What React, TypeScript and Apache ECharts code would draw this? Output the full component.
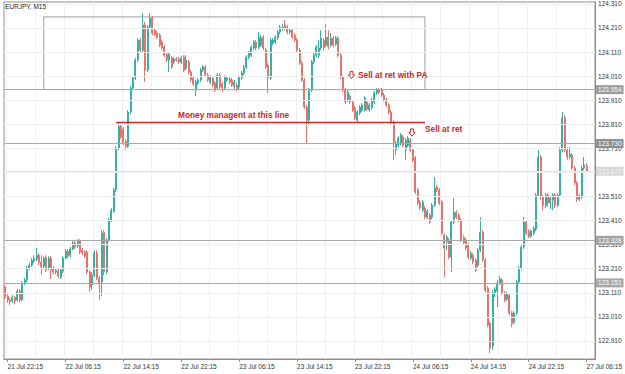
import React, { useEffect, useRef } from 'react';
import * as echarts from 'echarts';

const title = 'EURJPY, M15';
const xLabels = ['21 Jul 22:15', '22 Jul 06:15', '22 Jul 14:15', '22 Jul 22:15', '23 Jul 06:15', '23 Jul 14:15', '23 Jul 22:15', '24 Jul 06:15', '24 Jul 14:15', '24 Jul 22:15', '27 Jul 06:15'];
const barCount = 245;
const barsPerLabel = 24;

const opens = [
  123.134, 123.096, 123.080, 123.076, 123.092, 123.080, 123.117, 123.080, 123.151, 123.163,
  123.213, 123.225, 123.242, 123.250, 123.266, 123.238, 123.221, 123.258, 123.213, 123.254,
  123.209, 123.196, 123.200, 123.175, 123.200, 123.254, 123.283, 123.266, 123.292, 123.317,
  123.304, 123.325, 123.287, 123.279, 123.279, 123.196, 123.142, 123.183, 123.275, 123.171,
  123.155, 123.362, 123.196, 123.329, 123.412, 123.449, 123.537, 123.711, 123.802, 123.790,
  123.740, 123.719, 123.861, 123.961, 124.002, 124.077, 124.160, 124.118, 124.222, 124.035,
  124.214, 124.251, 124.201, 124.189, 124.180, 124.152, 124.131, 124.101, 124.077, 124.085,
  124.069, 124.081, 124.081, 124.069, 124.089, 124.044, 124.069, 124.027, 124.002, 123.952,
  123.982, 123.994, 124.035, 124.048, 124.014, 123.986, 124.002, 123.982, 123.961, 124.014,
  123.977, 123.961, 123.994, 123.998, 123.994, 123.965, 123.973, 123.965, 124.002, 124.023,
  124.048, 124.089, 124.097, 124.127, 124.152, 124.131, 124.139, 124.172, 124.118, 124.056,
  124.002, 124.147, 124.152, 124.168, 124.193, 124.206, 124.222, 124.214, 124.193, 124.201,
  124.180, 124.160, 124.118, 124.064, 123.994, 123.882, 123.827, 123.952, 124.069, 124.097,
  124.097, 124.127, 124.160, 124.139, 124.172, 124.139, 124.168, 124.143, 124.168, 124.097,
  124.006, 123.952, 123.911, 123.927, 123.903, 123.878, 123.827, 123.857, 123.869, 123.869,
  123.903, 123.869, 123.878, 123.903, 123.940, 123.952, 123.952, 123.931, 123.911, 123.890,
  123.861, 123.819, 123.703, 123.723, 123.732, 123.757, 123.703, 123.723, 123.744, 123.703,
  123.670, 123.537, 123.487, 123.453, 123.462, 123.424, 123.432, 123.424, 123.474, 123.549,
  123.537, 123.487, 123.349, 123.321, 123.329, 123.258, 123.404, 123.445, 123.432, 123.412,
  123.341, 123.329, 123.308, 123.254, 123.266, 123.246, 123.225, 123.287, 123.362, 123.246,
  123.130, 122.984, 122.888, 123.109, 123.117, 123.151, 123.163, 123.109, 123.084, 123.100,
  123.026, 122.988, 123.026, 123.155, 123.213, 123.300, 123.404, 123.366, 123.345, 123.358,
  123.374, 123.516, 123.674, 123.508, 123.474, 123.516, 123.483, 123.495, 123.516, 123.474,
  123.516, 123.703, 123.836, 123.703, 123.674, 123.682, 123.628, 123.566, 123.499, 123.508,
  123.628, 123.636,
];

const closes = [
  123.092, 123.080, 123.072, 123.092, 123.076, 123.117, 123.080, 123.151, 123.163, 123.213,
  123.225, 123.246, 123.254, 123.266, 123.238, 123.217, 123.254, 123.204, 123.254, 123.204,
  123.196, 123.204, 123.179, 123.204, 123.254, 123.283, 123.262, 123.292, 123.317, 123.300,
  123.325, 123.279, 123.275, 123.262, 123.196, 123.134, 123.183, 123.275, 123.171, 123.146,
  123.358, 123.196, 123.329, 123.412, 123.453, 123.537, 123.711, 123.802, 123.757, 123.732,
  123.719, 123.861, 123.961, 124.002, 124.077, 124.160, 124.118, 124.222, 124.035, 124.214,
  124.251, 124.189, 124.184, 124.172, 124.139, 124.127, 124.097, 124.077, 124.101, 124.048,
  124.081, 124.077, 124.069, 124.085, 124.035, 124.077, 124.027, 123.994, 123.977, 123.986,
  123.994, 124.035, 124.048, 124.014, 123.994, 124.006, 123.973, 123.952, 124.014, 123.965,
  123.961, 124.006, 124.002, 123.986, 123.973, 123.986, 123.957, 124.006, 124.023, 124.048,
  124.089, 124.106, 124.131, 124.152, 124.127, 124.172, 124.168, 124.127, 124.048, 124.002,
  124.160, 124.160, 124.172, 124.193, 124.214, 124.214, 124.210, 124.193, 124.201, 124.172,
  124.160, 124.118, 124.064, 123.994, 123.882, 123.827, 123.952, 124.069, 124.097, 124.131,
  124.127, 124.168, 124.127, 124.172, 124.131, 124.168, 124.139, 124.168, 124.097, 124.006,
  123.952, 123.903, 123.944, 123.903, 123.869, 123.836, 123.861, 123.882, 123.890, 123.919,
  123.873, 123.890, 123.911, 123.940, 123.952, 123.944, 123.931, 123.911, 123.890, 123.861,
  123.815, 123.736, 123.732, 123.753, 123.765, 123.723, 123.744, 123.753, 123.703, 123.661,
  123.529, 123.483, 123.462, 123.487, 123.424, 123.449, 123.404, 123.474, 123.545, 123.537,
  123.483, 123.358, 123.296, 123.341, 123.258, 123.404, 123.445, 123.424, 123.412, 123.329,
  123.317, 123.296, 123.258, 123.275, 123.238, 123.204, 123.287, 123.362, 123.246, 123.121,
  122.975, 122.880, 123.109, 123.126, 123.151, 123.167, 123.109, 123.080, 123.104, 123.026,
  122.984, 123.026, 123.155, 123.213, 123.300, 123.404, 123.358, 123.345, 123.366, 123.378,
  123.516, 123.674, 123.508, 123.474, 123.516, 123.483, 123.504, 123.516, 123.474, 123.516,
  123.703, 123.836, 123.703, 123.674, 123.686, 123.628, 123.566, 123.499, 123.512, 123.628,
  123.640, 123.615,
];

const lows = [
  123.084, 123.068, 123.059, 123.068, 123.063, 123.072, 123.072, 123.076, 123.142, 123.155,
  123.204, 123.217, 123.234, 123.242, 123.225, 123.183, 123.213, 123.196, 123.204, 123.167,
  123.187, 123.187, 123.171, 123.167, 123.192, 123.250, 123.254, 123.258, 123.287, 123.292,
  123.296, 123.270, 123.266, 123.254, 123.187, 123.113, 123.121, 123.175, 123.163, 123.080,
  123.096, 123.183, 123.187, 123.321, 123.404, 123.441, 123.529, 123.703, 123.749, 123.723,
  123.703, 123.711, 123.852, 123.952, 123.994, 124.069, 124.110, 124.110, 123.986, 124.027,
  124.206, 124.180, 124.176, 124.164, 124.131, 124.118, 124.089, 124.069, 124.027, 124.040,
  124.060, 124.069, 124.060, 124.060, 124.027, 124.035, 124.018, 123.986, 123.969, 123.927,
  123.973, 123.986, 124.027, 124.006, 123.986, 123.977, 123.965, 123.944, 123.952, 123.957,
  123.944, 123.952, 123.986, 123.977, 123.965, 123.957, 123.948, 123.957, 123.994, 124.014,
  124.040, 124.081, 124.089, 124.118, 124.118, 124.122, 124.131, 124.118, 124.040, 123.940,
  123.994, 124.139, 124.143, 124.160, 124.184, 124.197, 124.201, 124.184, 124.184, 124.164,
  124.152, 124.110, 124.056, 123.986, 123.874, 123.732, 123.806, 123.944, 124.060, 124.089,
  124.085, 124.118, 124.118, 124.131, 124.122, 124.131, 124.131, 124.135, 124.089, 123.998,
  123.944, 123.894, 123.903, 123.894, 123.861, 123.827, 123.819, 123.848, 123.861, 123.861,
  123.865, 123.861, 123.869, 123.894, 123.931, 123.935, 123.923, 123.903, 123.882, 123.852,
  123.806, 123.661, 123.682, 123.715, 123.723, 123.715, 123.661, 123.715, 123.694, 123.653,
  123.520, 123.474, 123.453, 123.445, 123.416, 123.416, 123.395, 123.416, 123.466, 123.529,
  123.474, 123.349, 123.175, 123.287, 123.250, 123.196, 123.395, 123.416, 123.404, 123.321,
  123.308, 123.287, 123.250, 123.246, 123.229, 123.196, 123.217, 123.279, 123.238, 123.113,
  122.967, 122.860, 122.872, 123.092, 123.051, 123.142, 123.100, 123.072, 123.076, 123.017,
  122.967, 122.979, 123.017, 123.146, 123.204, 123.292, 123.349, 123.337, 123.337, 123.349,
  123.366, 123.508, 123.495, 123.453, 123.462, 123.466, 123.458, 123.453, 123.462, 123.466,
  123.508, 123.694, 123.694, 123.661, 123.665, 123.620, 123.557, 123.487, 123.491, 123.499,
  123.620, 123.607,
];

const highs = [
  123.142, 123.104, 123.088, 123.100, 123.096, 123.126, 123.126, 123.159, 123.171, 123.221,
  123.234, 123.254, 123.266, 123.296, 123.275, 123.266, 123.262, 123.266, 123.262, 123.262,
  123.221, 123.213, 123.209, 123.213, 123.262, 123.292, 123.292, 123.300, 123.325, 123.325,
  123.333, 123.333, 123.296, 123.287, 123.287, 123.204, 123.196, 123.287, 123.287, 123.179,
  123.370, 123.370, 123.337, 123.420, 123.462, 123.545, 123.719, 123.819, 123.810, 123.798,
  123.749, 123.869, 123.969, 124.010, 124.085, 124.168, 124.168, 124.272, 124.235, 124.222,
  124.272, 124.259, 124.210, 124.197, 124.189, 124.160, 124.139, 124.110, 124.110, 124.093,
  124.089, 124.089, 124.089, 124.093, 124.097, 124.097, 124.077, 124.035, 124.010, 123.994,
  124.002, 124.044, 124.056, 124.056, 124.023, 124.014, 124.010, 123.990, 124.023, 124.023,
  123.986, 124.014, 124.010, 124.006, 124.002, 123.994, 123.982, 124.014, 124.031, 124.056,
  124.097, 124.114, 124.139, 124.160, 124.160, 124.193, 124.180, 124.180, 124.127, 124.064,
  124.168, 124.168, 124.180, 124.201, 124.222, 124.226, 124.243, 124.222, 124.210, 124.210,
  124.189, 124.168, 124.127, 124.073, 124.002, 123.890, 123.961, 124.077, 124.106, 124.139,
  124.160, 124.201, 124.168, 124.226, 124.201, 124.189, 124.176, 124.176, 124.176, 124.106,
  124.014, 123.961, 123.952, 123.935, 123.911, 123.886, 123.869, 123.890, 123.898, 123.927,
  123.911, 123.898, 123.919, 123.948, 123.961, 123.961, 123.961, 123.940, 123.919, 123.898,
  123.869, 123.827, 123.740, 123.761, 123.774, 123.765, 123.753, 123.761, 123.753, 123.711,
  123.678, 123.545, 123.495, 123.495, 123.470, 123.458, 123.441, 123.483, 123.591, 123.557,
  123.545, 123.495, 123.358, 123.349, 123.337, 123.412, 123.504, 123.453, 123.441, 123.420,
  123.349, 123.337, 123.317, 123.283, 123.275, 123.254, 123.296, 123.424, 123.370, 123.254,
  123.138, 122.992, 123.121, 123.134, 123.163, 123.179, 123.171, 123.117, 123.113, 123.109,
  123.034, 123.034, 123.163, 123.221, 123.308, 123.424, 123.412, 123.374, 123.374, 123.387,
  123.524, 123.703, 123.682, 123.516, 123.524, 123.524, 123.512, 123.524, 123.524, 123.524,
  123.715, 123.861, 123.848, 123.715, 123.715, 123.690, 123.637, 123.574, 123.520, 123.637,
  123.674, 123.649,
];

const priceTicks = [122.910, 123.010, 123.110, 123.210, 123.310, 123.410, 123.510, 123.610, 123.710, 123.810, 123.910, 124.010, 124.110, 124.210, 124.310];
const levelPrices = [123.954, 123.730, 123.328, 123.151];
const levelBoxColors = ['#9c9c9c', '#8e8e8e', '#a2a2a2', '#a8a8a8'];
const bidPrice = 123.615;
const moneyLinePrice = 123.819;
const moneyLineBars = [46, 174];
const boxBars = [16, 174];
const boxPrices = [124.256, 123.954];

const RED = '#c9282d';
const AXIS_FONT = '"Liberation Sans", Arial, sans-serif';

function downArrow(cx: number, cy: number) {
  return {
    type: 'polygon',
    z: 100,
    shape: {
      points: [
        [cx - 1.4, cy - 3.6], [cx + 1.4, cy - 3.6], [cx + 1.4, cy - 0.2], [cx + 3.1, cy - 0.2],
        [cx, cy + 3.6], [cx - 3.1, cy - 0.2], [cx - 1.4, cy - 0.2],
      ],
    },
    style: { fill: '#ffffff', stroke: RED, lineWidth: 1 },
  };
}

function annotation(text: string, x: number, y: number) {
  return {
    type: 'text',
    x,
    y,
    z: 100,
    style: {
      text,
      fill: RED,
      fontSize: 8.3,
      fontWeight: 'bold',
      fontFamily: AXIS_FONT,
      align: 'left',
      verticalAlign: 'middle',
    },
  };
}

export default function App() {
  const ref = useRef<HTMLDivElement>(null);

  useEffect(() => {
    if (!ref.current) return;
    const chart = echarts.init(ref.current, undefined, { renderer: 'svg' });

    const categories = Array.from({ length: barCount }, (_, i) =>
      i > 0 && (i - 1) % barsPerLabel === 0 && xLabels[(i - 1) / barsPerLabel] ? xLabels[(i - 1) / barsPerLabel] : 'b' + i
    );
    const isLabelIdx = (idx: number) => idx > 0 && (idx - 1) % barsPerLabel === 0;
    const isGridIdx = (idx: number) => idx > 0 && (idx - 1) % (barsPerLabel / 2) === 0;

    const candles = opens.map((o, i) => [o, closes[i], lows[i], highs[i]]);

    const levelLabel = (value: number, bg: string, fg: string) => ({
      show: true,
      position: 'end',
      distance: 1,
      formatter: value.toFixed(3),
      color: fg,
      backgroundColor: bg,
      fontSize: 6.5,
      fontFamily: AXIS_FONT,
      padding: [1, 2, 1, 2],
    });

    const option: any = {
      animation: false,
      backgroundColor: '#ffffff',
      grid: {
        left: 4, right: 29, top: 2, bottom: 15,
        show: true, borderColor: '#8c8c8c', borderWidth: 1, backgroundColor: '#ffffff',
      },
      xAxis: {
        type: 'category',
        data: categories,
        boundaryGap: true,
        axisLine: { show: true, lineStyle: { color: '#8c8c8c', width: 1 } },
        axisTick: { show: true, interval: (idx: number) => isLabelIdx(idx), alignWithLabel: true, length: 3, lineStyle: { color: '#8c8c8c' } },
        axisLabel: {
          interval: (idx: number) => isLabelIdx(idx),
          align: 'left',
          fontSize: 6.5,
          color: '#333333',
          fontFamily: AXIS_FONT,
          margin: 4,
        },
        splitLine: { show: true, interval: (idx: number) => isGridIdx(idx), lineStyle: { color: '#f0f0f0', width: 1 } },
      },
      yAxis: {
        type: 'value',
        position: 'right',
        min: 122.835,
        max: 124.318,
        interval: 0.005,
        axisLine: { show: true, lineStyle: { color: '#8c8c8c', width: 1 } },
        axisTick: { show: false },
        splitLine: { show: false },
        axisLabel: {
          fontSize: 6.5,
          color: '#333333',
          fontFamily: AXIS_FONT,
          margin: 3,
          formatter: (v: number) => (Math.round(v * 1000) % 100 === 10 ? v.toFixed(3) : ''),
        },
      },
      series: [
        {
          type: 'line',
          data: [],
          z: 1,
          silent: true,
          markLine: {
            silent: true,
            precision: 3,
            symbol: ['none', 'none'],
            animation: false,
            data: [
              ...priceTicks.map((v) => ({ yAxis: v, lineStyle: { color: '#f0f0f0', width: 1, type: 'solid' }, label: { show: false } })),
              { yAxis: bidPrice, lineStyle: { color: '#e4e4e4', width: 1, type: 'solid' }, label: levelLabel(bidPrice, '#d6d6d6', '#f5f5f5') },
              ...levelPrices.map((v, k) => ({
                yAxis: v,
                lineStyle: { color: '#a9a9a9', width: 1, type: 'solid' },
                label: levelLabel(v, levelBoxColors[k], '#ffffff'),
              })),
            ],
          },
        },
        {
          type: 'candlestick',
          data: candles,
          z: 2,
          barWidth: 1.5,
          itemStyle: {
            color: '#36b2a5',
            color0: '#e8736b',
            borderColor: '#36b2a5',
            borderColor0: '#e8736b',
            borderWidth: 1,
          },
          markArea: {
            silent: true,
            itemStyle: { color: 'rgba(0,0,0,0)', borderColor: '#9c9c9c', borderWidth: 1 },
            data: [[
              { xAxis: boxBars[0], yAxis: boxPrices[0] },
              { xAxis: boxBars[1], yAxis: boxPrices[1] },
            ]],
          },
          markLine: {
            silent: true,
            precision: 3,
            symbol: ['none', 'none'],
            animation: false,
            label: { show: false },
            data: [[
              { coord: [moneyLineBars[0], moneyLinePrice], lineStyle: { color: RED, width: 1.4, type: 'solid' } },
              { coord: [moneyLineBars[1], moneyLinePrice] },
            ]],
          },
        },
      ],
      graphic: [
        {
          type: 'text', x: 5, y: 3, z: 100,
          style: { text: title, fill: '#222222', fontSize: 6.5, fontFamily: AXIS_FONT, align: 'left', verticalAlign: 'top' },
        },
        annotation('Money managent at this line', 178, 115),
        annotation('Sell at ret with PA', 358, 75),
        downArrow(351.5, 75),
        annotation('Sell at ret', 425, 129),
        downArrow(412, 132.5),
      ],
    };

    chart.setOption(option);
    return () => chart.dispose();
  }, []);

  return <div ref={ref} style={{ position: 'fixed', left: 0, top: 0, width: 625, height: 374 }} />;
}
